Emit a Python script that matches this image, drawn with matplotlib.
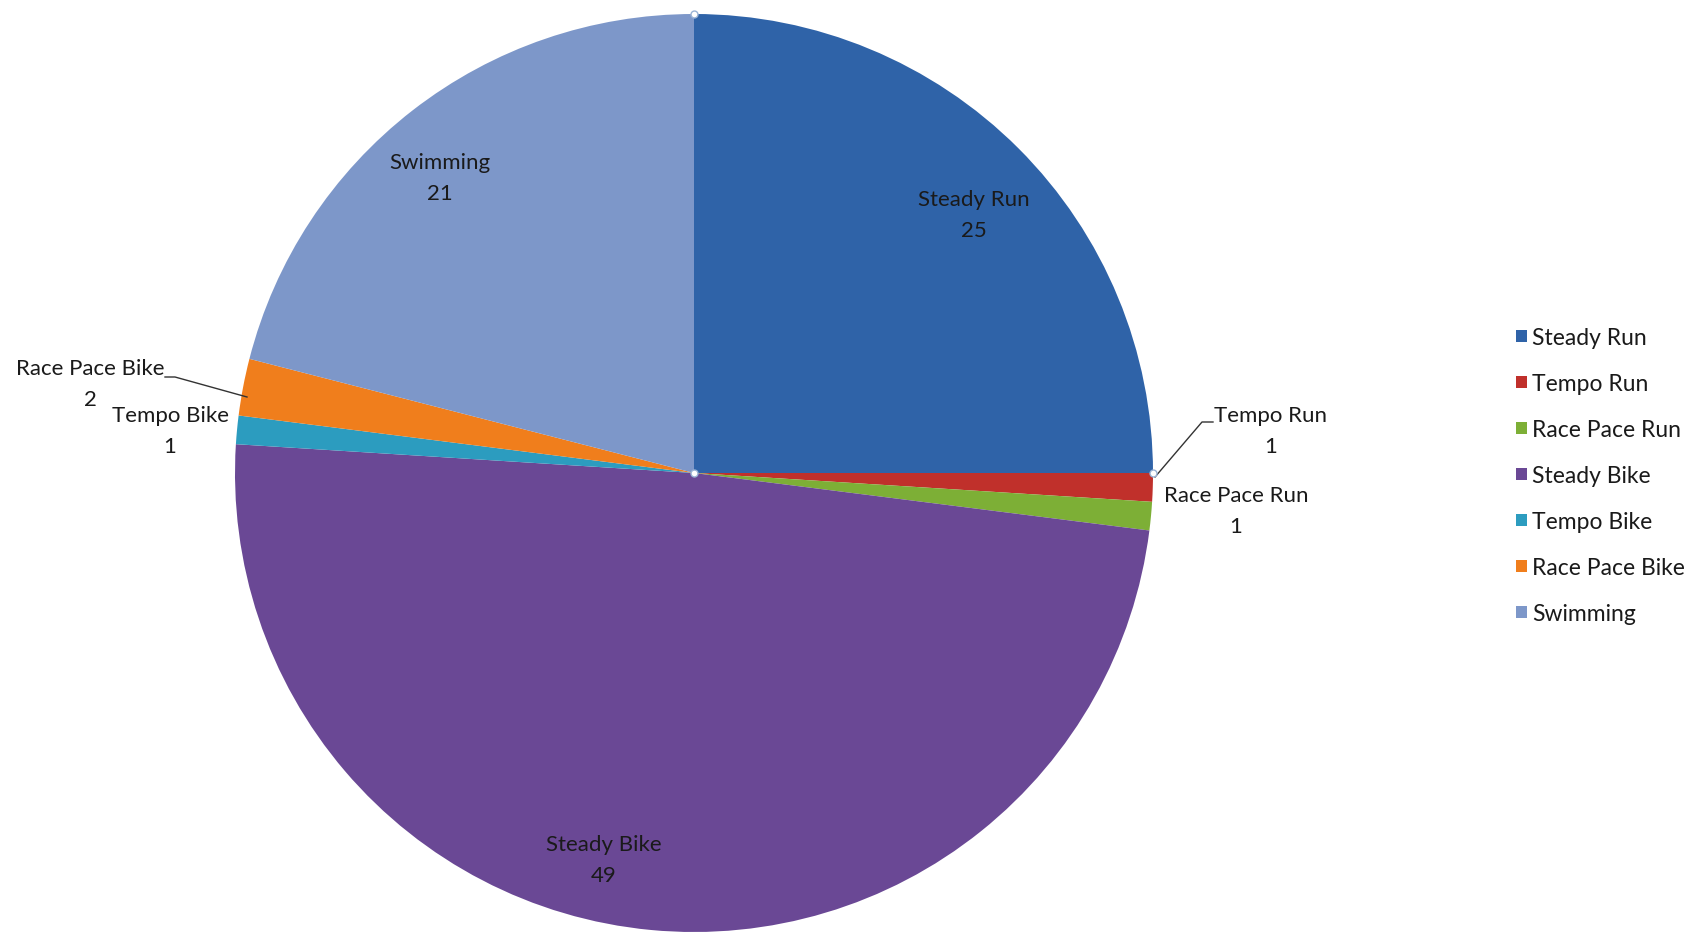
import matplotlib
matplotlib.use("Agg")
import matplotlib.pyplot as plt

# data
labels = ["Steady Run", "Tempo Run", "Race Pace Run", "Steady Bike",
          "Tempo Bike", "Race Pace Bike", "Swimming"]
values = [25, 1, 1, 49, 1, 2, 21]
colors = ["#2F63A8", "#C0302B", "#7DAF36", "#6A4895",
          "#2C9CBF", "#F07E1C", "#7D97C9"]

W, H = 1705, 937
plt.rcParams['font.family'] = ['Lato', 'DejaVu Sans']

fig = plt.figure(figsize=(W / 100, H / 100), dpi=100)
ax = fig.add_axes([0, 0, 1, 1])

cx, cy, r = 694, H - 474, 459
wedges, _ = ax.pie(values, colors=colors, startangle=90, counterclock=False,
                   center=(cx, cy), radius=r, frame=True,
                   wedgeprops=dict(linewidth=0))
ax.set_xlim(0, W)
ax.set_ylim(0, H)
ax.set_aspect('equal')
ax.axis('off')

# label positions in image pixels (x, y of first line)
label_pos = [(974, 200), (1271, 416), (1236, 496), (604, 845),
             (170, 416), (90, 369), (440, 163)]
for (x, y), name, v in zip(label_pos, labels, values):
    ax.text(x, H - y, name, ha='center', va='center', fontsize=16, color='#1a1a1a')
    ax.text(x, H - y - 31, str(v), ha='center', va='center', fontsize=16, color='#1a1a1a')

# leader lines
ax.plot([1155, 1202, 1213], [H - 478, H - 423, H - 423], color='#333333', lw=1)
ax.plot([247, 175, 165], [H - 398, H - 378, H - 378], color='#333333', lw=1)

# selection handles
for hx, hy in [(cx, cy + r), (cx, cy), (cx + r, cy)]:
    ax.plot(hx, hy, 'o', ms=5, mfc='white', mec='#9ab3d5', mew=1)

leg = ax.legend(wedges, labels, loc='upper left', bbox_to_anchor=(1505 / W, 1 - 317 / H),
                frameon=False, fontsize=16.5, handlelength=0.45, handleheight=0.45,
                handletextpad=0.25, labelspacing=1.09, borderpad=0)
for t in leg.get_texts():
    t.set_color('#1a1a1a')

fig.savefig("out.png", dpi=100)
